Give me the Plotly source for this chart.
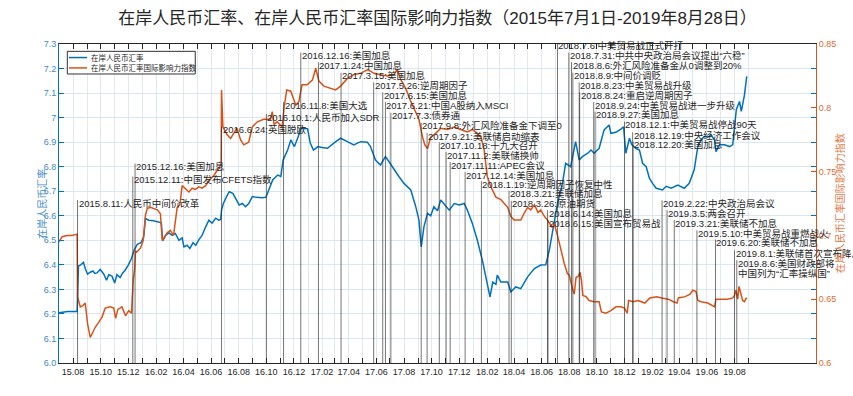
import plotly.graph_objects as go

# ---------------- data ----------------
cny_dates = ["2015-07-01","2015-07-20","2015-08-10","2015-08-11","2015-08-13","2015-08-18","2015-08-24","2015-08-28",
"2015-09-02","2015-09-08","2015-09-14","2015-09-18","2015-09-23","2015-09-30","2015-10-08","2015-10-14","2015-10-19",
"2015-10-26","2015-11-01","2015-11-06","2015-11-13","2015-11-18","2015-11-24","2015-12-01","2015-12-08","2015-12-14",
"2015-12-21","2015-12-29","2016-01-04","2016-01-08","2016-01-15","2016-01-26","2016-02-06","2016-02-12","2016-02-15",
"2016-02-22","2016-02-29","2016-03-07","2016-03-14","2016-03-22","2016-03-29","2016-04-02","2016-04-09","2016-04-15",
"2016-04-22","2016-04-28","2016-05-05","2016-05-12","2016-05-20","2016-05-27","2016-06-03","2016-06-11","2016-06-18",
"2016-06-22","2016-06-24","2016-06-28","2016-07-05","2016-07-11","2016-07-19","2016-07-26","2016-08-02","2016-08-09",
"2016-08-16","2016-08-23","2016-08-31","2016-09-10","2016-09-20","2016-09-30","2016-10-08","2016-10-15","2016-10-26",
"2016-11-02","2016-11-07","2016-11-17","2016-11-24","2016-12-02","2016-12-09","2016-12-17","2016-12-31","2017-01-06",
"2017-01-13","2017-01-23","2017-02-01","2017-02-13","2017-02-27","2017-03-14","2017-03-29","2017-04-12","2017-04-27",
"2017-05-12","2017-05-19","2017-05-30","2017-06-10","2017-06-21","2017-06-29","2017-07-10","2017-07-21","2017-08-01",
"2017-08-16","2017-08-27","2017-09-03","2017-09-08","2017-09-14","2017-09-22","2017-09-29","2017-10-06","2017-10-14",
"2017-10-21","2017-10-28","2017-11-09","2017-11-20","2017-12-01","2017-12-12","2017-12-19","2017-12-30","2018-01-10",
"2018-01-21","2018-01-29","2018-02-05","2018-02-07","2018-02-13","2018-02-20","2018-02-23","2018-03-03","2018-03-18",
"2018-03-25","2018-04-05","2018-04-16","2018-05-01","2018-05-16","2018-05-30","2018-06-10","2018-06-18","2018-06-25",
"2018-07-06","2018-07-17","2018-07-24","2018-08-04","2018-08-15","2018-08-23","2018-08-30","2018-09-11","2018-09-18",
"2018-09-25","2018-10-06","2018-10-17","2018-10-28","2018-11-01","2018-11-12","2018-11-23","2018-11-29","2018-12-04",
"2018-12-12","2018-12-17","2018-12-26","2019-01-03","2019-01-10","2019-01-18","2019-01-25","2019-02-01","2019-02-09",
"2019-02-23","2019-03-03","2019-03-14","2019-03-29","2019-04-12","2019-04-23","2019-05-04","2019-05-12","2019-05-19",
"2019-05-26","2019-06-03","2019-06-10","2019-06-18","2019-06-21","2019-06-29","2019-07-10","2019-07-21","2019-07-28",
"2019-08-05","2019-08-12","2019-08-16","2019-08-23","2019-08-28"]
cny_values = [6.205,6.21,6.21,6.33,6.395,6.40,6.41,6.385,
6.362,6.37,6.375,6.365,6.367,6.381,6.362,6.337,6.36,
6.354,6.326,6.36,6.348,6.365,6.378,6.399,6.426,6.46,
6.484,6.49,6.514,6.589,6.582,6.58,6.575,6.571,6.498,
6.521,6.53,6.52,6.528,6.50,6.51,6.473,6.48,6.467,
6.49,6.48,6.503,6.52,6.555,6.582,6.57,6.59,6.582,
6.585,6.623,6.65,6.678,6.698,6.691,6.664,6.644,6.65,
6.637,6.65,6.678,6.675,6.673,6.675,6.712,6.746,6.766,
6.76,6.827,6.868,6.909,6.882,6.916,6.957,6.955,6.896,
6.868,6.882,6.878,6.875,6.896,6.916,6.902,6.889,6.902,
6.90,6.882,6.827,6.807,6.841,6.82,6.787,6.759,6.732,
6.705,6.637,6.582,6.473,6.555,6.61,6.60,6.637,6.62,
6.664,6.65,6.623,6.65,6.644,6.65,6.623,6.569,6.50,
6.419,6.351,6.297,6.269,6.33,6.32,6.358,6.33,6.33,
6.29,6.31,6.303,6.351,6.385,6.399,6.40,6.46,6.541,
6.65,6.732,6.814,6.80,6.902,6.827,6.841,6.855,6.868,
6.855,6.875,6.95,6.97,6.936,6.94,6.953,6.963,6.855,
6.916,6.89,6.875,6.868,6.814,6.80,6.753,6.732,6.712,
6.705,6.72,6.712,6.725,6.712,6.732,6.787,6.882,6.909,
6.923,6.92,6.93,6.909,6.861,6.889,6.889,6.882,6.889,
7.032,7.066,7.025,7.093,7.168]

idx_dates = ["2015-07-01","2015-07-08","2015-07-19","2015-07-30","2015-08-10","2015-08-11","2015-08-17","2015-08-23",
"2015-08-28","2015-09-02","2015-09-08","2015-09-12","2015-09-19","2015-09-27","2015-10-04","2015-10-11","2015-10-22",
"2015-10-30","2015-11-03","2015-11-08","2015-11-17","2015-11-25","2015-12-02","2015-12-08","2015-12-12","2015-12-15",
"2015-12-17","2015-12-20","2015-12-28","2016-01-03","2016-01-08","2016-01-12","2016-01-19","2016-02-03","2016-02-10",
"2016-02-14","2016-02-25","2016-03-03","2016-03-10","2016-03-18","2016-03-24","2016-03-29","2016-04-05","2016-04-13",
"2016-04-20","2016-04-27","2016-05-05","2016-05-12","2016-05-20","2016-05-27","2016-06-07","2016-06-14","2016-06-20",
"2016-06-23","2016-06-24","2016-06-27","2016-07-06","2016-07-14","2016-07-21","2016-07-28","2016-08-05","2016-08-12",
"2016-08-23","2016-08-31","2016-09-11","2016-09-25","2016-10-10","2016-10-14","2016-10-18","2016-10-25","2016-11-05",
"2016-11-09","2016-11-15","2016-11-24","2016-12-05","2016-12-12","2016-12-16","2016-12-19","2016-12-30","2017-01-11",
"2017-01-18","2017-01-25","2017-02-05","2017-02-20","2017-03-03","2017-03-14","2017-03-29","2017-04-12","2017-04-27",
"2017-05-13","2017-05-27","2017-06-10","2017-06-25","2017-07-10","2017-07-17","2017-07-25","2017-08-05","2017-08-16",
"2017-08-27","2017-09-03","2017-09-11","2017-09-16","2017-09-22","2017-09-29","2017-10-10","2017-10-21","2017-11-05",
"2017-11-20","2017-12-04","2017-12-19","2017-12-30","2018-01-10","2018-01-18","2018-01-25","2018-02-01","2018-02-09",
"2018-02-20","2018-03-03","2018-03-18","2018-03-25","2018-04-01","2018-04-16","2018-04-23","2018-05-01","2018-05-08",
"2018-05-16","2018-05-24","2018-05-30","2018-06-07","2018-06-14","2018-06-25","2018-06-29","2018-07-06","2018-07-13",
"2018-07-21","2018-07-28","2018-08-01","2018-08-09","2018-08-12","2018-08-16","2018-08-21","2018-08-25","2018-08-28",
"2018-08-31","2018-09-07","2018-09-14","2018-09-25","2018-10-06","2018-10-11","2018-10-21","2018-11-01","2018-11-12",
"2018-11-23","2018-12-01","2018-12-07","2018-12-10","2018-12-20","2018-12-31","2019-01-08","2019-01-15","2019-01-26",
"2019-02-10","2019-02-21","2019-03-08","2019-03-19","2019-03-27","2019-03-30","2019-04-14","2019-04-25","2019-05-01",
"2019-05-08","2019-05-12","2019-05-19","2019-06-03","2019-06-18","2019-06-21","2019-07-02","2019-07-17","2019-07-28",
"2019-08-01","2019-08-04","2019-08-08","2019-08-11","2019-08-15","2019-08-19","2019-08-23","2019-08-27","2019-08-28"]
idx_values = [0.695,0.699,0.700,0.700,0.701,0.652,0.644,0.645,
0.647,0.631,0.620,0.623,0.628,0.632,0.636,0.643,0.644,
0.643,0.635,0.642,0.644,0.637,0.641,0.639,0.665,0.673,
0.688,0.687,0.690,0.696,0.716,0.721,0.722,0.720,0.717,
0.696,0.702,0.704,0.700,0.722,0.724,0.739,0.737,0.734,
0.737,0.736,0.738,0.737,0.739,0.743,0.747,0.751,0.754,
0.755,0.814,0.785,0.779,0.776,0.780,0.784,0.775,0.771,
0.773,0.785,0.789,0.791,0.791,0.797,0.787,0.789,0.785,
0.800,0.814,0.813,0.802,0.805,0.813,0.818,0.818,0.822,
0.831,0.821,0.817,0.815,0.814,0.817,0.823,0.826,0.827,
0.830,0.827,0.826,0.825,0.826,0.830,0.822,0.815,0.805,
0.796,0.791,0.777,0.771,0.768,0.777,0.780,0.784,0.783,
0.785,0.783,0.781,0.783,0.780,0.777,0.767,0.746,0.738,
0.730,0.728,0.722,0.715,0.712,0.712,0.717,0.722,0.720,
0.724,0.718,0.720,0.715,0.712,0.706,0.709,0.700,0.689,
0.678,0.670,0.669,0.657,0.654,0.667,0.668,0.671,0.665,
0.653,0.652,0.649,0.648,0.648,0.640,0.639,0.641,0.644,
0.644,0.643,0.639,0.649,0.648,0.649,0.648,0.647,0.651,
0.652,0.651,0.650,0.648,0.647,0.651,0.652,0.654,0.657,
0.656,0.649,0.648,0.647,0.644,0.650,0.650,0.650,0.651,
0.653,0.657,0.650,0.660,0.655,0.649,0.648,0.651,0.650]

event_dates = ["2015-08-11","2015-12-11","2015-12-16","2016-06-24","2016-10-01","2016-11-08","2016-12-16","2017-01-24",
"2017-03-15","2017-05-26","2017-06-15","2017-06-21","2017-07-03","2017-09-08","2017-09-21","2017-10-18","2017-11-02",
"2017-11-11","2017-12-14","2018-01-19","2018-03-21","2018-03-26","2018-06-14","2018-06-15","2018-07-06","2018-07-31",
"2018-08-06","2018-08-09","2018-08-23","2018-08-24","2018-09-24","2018-09-27","2018-12-01","2018-12-19","2018-12-20",
"2019-02-22","2019-03-05","2019-03-21","2019-05-10","2019-06-20","2019-08-01","2019-08-06"]
event_labels = ["2015.8.11:人民币中间价改革","2015.12.11:中国发布CFETS指数","2015.12.16:美国加息","2016.6.24:英国脱欧",
"2016.10.1:人民币加入SDR","2016.11.8:美国大选","2016.12.16:美国加息","2017.1.24:中国加息","2017.3.15:美国加息",
"2017.5.26:逆周期因子","2017.6.15:美国加息","2017.6.21:中国A股纳入MSCI","2017.7.3:债券通","2017.9.8:外汇风险准备金下调至0",
"2017.9.21:美联储启动缩表","2017.10.18:十九大召开","2017.11.2:美联储换帅","2017.11.11:APEC会议","2017.12.14:美国加息",
"2018.1.19:逆周期因子恢复中性","2018.3.21:美联储加息","2018.3.26:原油期货","2018.6.14:美国加息","2018.6.15:美国宣布贸易战",
"2018.7.6:中美贸易战正式开打","2018.7.31:中共中央政治局会议提出“六稳”","2018.8.6:外汇风险准备金从0调整到20%",
"2018.8.9:中间价调贬","2018.8.23:中美贸易战升级","2018.8.24:重启逆周期因子","2018.9.24:中美贸易战进一步升级",
"2018.9.27:美国加息","2018.12.1:中美贸易战停战90天","2018.12.19:中央经济工作会议","2018.12.20:美国加息",
"2019.2.22:中央政治局会议","2019.3.5:两会召开","2019.3.21:美联储不加息","2019.5.10:中美贸易战重燃战火",
"2019.6.20:美联储不加息","2019.8.1:美联储首次宣布降息","2019.8.6:美国财政部将|中国列为“汇率操纵国”"]
# label height on the left (CNY) scale
event_label_y = [6.651,6.747,6.800,6.950,7.002,7.051,7.252,7.213,7.170,7.131,7.090,7.051,7.007,6.966,6.925,6.886,6.847,
6.806,6.766,6.728,6.689,6.648,6.610,6.570,7.294,7.252,7.213,7.170,7.131,7.090,7.051,7.011,6.970,6.927,6.889,
6.650,6.610,6.570,6.528,6.490,6.446,6.406]

x_tick_dates = ["2015-08-01","2015-09-01","2015-10-01","2015-11-01","2015-12-01","2016-01-01","2016-02-01","2016-03-01",
"2016-04-01","2016-05-01","2016-06-01","2016-07-01","2016-08-01","2016-09-01","2016-10-01","2016-11-01","2016-12-01",
"2017-01-01","2017-02-01","2017-03-01","2017-04-01","2017-05-01","2017-06-01","2017-07-01","2017-08-01","2017-09-01",
"2017-10-01","2017-11-01","2017-12-01","2018-01-01","2018-02-01","2018-03-01","2018-04-01","2018-05-01","2018-06-01",
"2018-07-01","2018-08-01","2018-09-01","2018-10-01","2018-11-01","2018-12-01","2019-01-01","2019-02-01","2019-03-01",
"2019-04-01","2019-05-01","2019-06-01","2019-07-01","2019-08-01","2019-09-01"]
x_tick_labels = ["15.08","","15.10","","15.12","","16.02","","16.04","","16.06","","16.08","","16.10","","16.12",
"","17.02","","17.04","","17.06","","17.08","","17.10","","17.12","","18.02","","18.04","","18.06",
"","18.08","","18.10","","18.12","","19.02","","19.04","","19.06","","19.08",""]
y_left_ticks = [6.0,6.1,6.2,6.3,6.4,6.5,6.6,6.7,6.8,6.9,7.0,7.1,7.2,7.3]
y_left_labels = ["6.0","6.1","6.2","6.3","6.4","6.5","6.6","6.7","6.8","6.9","7","7.1","7.2","7.3"]
y_right_ticks = [0.6,0.65,0.7,0.75,0.8,0.85]
y_right_labels = ["0.6","0.65","0.7","0.75","0.8","0.85"]

# ---------------- styling ----------------
BLUE = "#0072BD"
ORANGE = "#D95319"
TXT = "#262626"
FONT = "Liberation Sans, Arial, Noto Sans CJK SC, sans-serif"
GRID_V = "#e2e8ee"
GRID_H = "#d9e7f2"

fig = go.Figure()
fig.add_trace(go.Scatter(x=cny_dates, y=cny_values, mode="lines", name="在岸人民币汇率",
                         line=dict(color=BLUE, width=1.5), yaxis="y", showlegend=False))
fig.add_trace(go.Scatter(x=idx_dates, y=idx_values, mode="lines", name="在岸人民币汇率国际影响力指数",
                         line=dict(color=ORANGE, width=1.5), yaxis="y2", showlegend=False))

shapes = []
annotations = []
for d, lab, yv in zip(event_dates, event_labels, event_label_y):
    shapes.append(dict(type="line", xref="x", yref="y", x0=d, x1=d, y0=6.0, y1=min(yv + 0.013, 7.3),
                       line=dict(color="rgba(45,45,45,0.65)", width=1), layer="above"))
    parts = lab.split("|")
    for k, p in enumerate(parts):
        annotations.append(dict(x=d, y=yv - 0.041 * k, xref="x", yref="y", text=p, showarrow=False,
                                xanchor="left", yanchor="middle", xshift=-1,
                                font=dict(family=FONT, size=9.5, color=TXT)))

# legend (drawn manually to match the compact MATLAB legend box)
shapes.append(dict(type="rect", xref="paper", yref="paper", x0=0.011, x1=0.180, y0=0.906, y1=0.977,
                   line=dict(color="#333333", width=1), fillcolor="white", layer="above"))
shapes.append(dict(type="line", xref="paper", yref="paper", x0=0.013, x1=0.037, y0=0.9575, y1=0.9575,
                   line=dict(color=BLUE, width=1.5), layer="above"))
shapes.append(dict(type="line", xref="paper", yref="paper", x0=0.013, x1=0.037, y0=0.925, y1=0.925,
                   line=dict(color=ORANGE, width=1.5), layer="above"))
annotations.append(dict(x=0.040, y=0.9575, xref="paper", yref="paper", text="在岸人民币汇率", showarrow=False,
                        xanchor="left", yanchor="middle", font=dict(family=FONT, size=7.5, color=TXT)))
annotations.append(dict(x=0.040, y=0.925, xref="paper", yref="paper", text="在岸人民币汇率国际影响力指数", showarrow=False,
                        xanchor="left", yanchor="middle", font=dict(family=FONT, size=7.5, color=TXT)))
# axis titles
annotations.append(dict(x=-0.034, y=0.5, xref="paper", yref="paper", text="在岸人民币汇率", showarrow=False,
                        textangle=-90, font=dict(family=FONT, size=10, color="#4a8fc7")))
annotations.append(dict(x=1.042, y=0.5, xref="paper", yref="paper", text="在岸人民币汇率国际影响力指数", showarrow=False,
                        textangle=-90, font=dict(family=FONT, size=10, color="#e07a4a")))

fig.update_layout(
    width=853, height=396,
    margin=dict(l=59, r=37, t=44, b=33, autoexpand=False),
    paper_bgcolor="white", plot_bgcolor="white",
    title=dict(text="在岸人民币汇率、在岸人民币汇率国际影响力指数（2015年7月1日-2019年8月28日）",
               x=0.5, xref="paper", y=0.955, yref="container", yanchor="middle",
               font=dict(family=FONT, size=17, color=TXT)),
    xaxis=dict(type="date", range=["2015-07-01", "2020-01-28"], tickmode="array",
               tickvals=x_tick_dates, ticktext=x_tick_labels, ticks="inside", ticklen=5,
               tickcolor=TXT, showline=True, linecolor=TXT, linewidth=1, mirror="ticks",
               showgrid=True, gridcolor=GRID_V, gridwidth=1, zeroline=False, automargin=False,
               tickfont=dict(family=FONT, size=9, color=TXT)),
    yaxis=dict(range=[6.0, 7.3], tickmode="array", tickvals=y_left_ticks, ticktext=y_left_labels,
               ticks="inside", ticklen=5, tickcolor=BLUE, showline=True, linecolor=BLUE, mirror="ticks",
               showgrid=True, gridcolor=GRID_H, zeroline=False, automargin=False,
               tickfont=dict(family=FONT, size=9, color="#3f89c4")),
    yaxis2=dict(range=[0.6, 0.85], overlaying="y", side="right", tickmode="array",
                tickvals=y_right_ticks, ticktext=y_right_labels, ticks="inside", ticklen=5,
                tickcolor=ORANGE, showline=True, linecolor=ORANGE, showgrid=False, zeroline=False,
                automargin=False, tickfont=dict(family=FONT, size=9, color="#e06a30")),
    shapes=shapes, annotations=annotations,
)

fig.write_html("out.html", config={"displayModeBar": False, "staticPlot": True},
               post_script="document.body.style.margin='0';document.body.style.padding='0';")
